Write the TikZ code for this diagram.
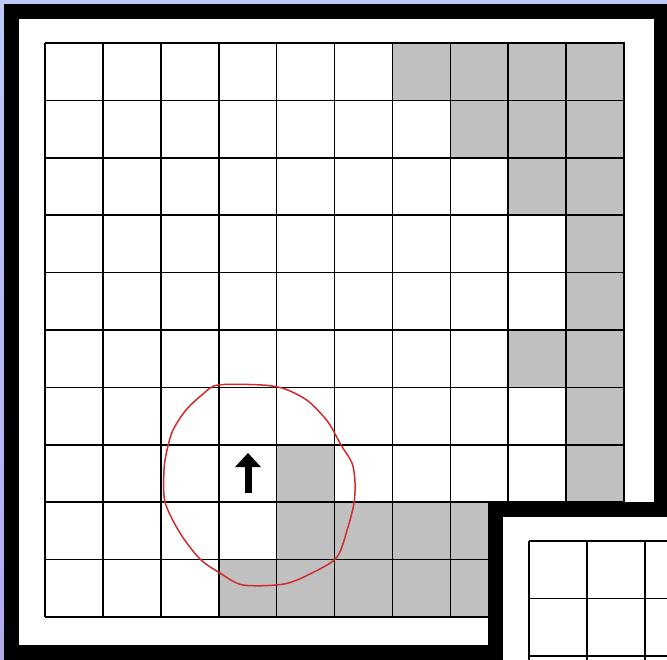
\documentclass[tikz,border=0pt]{standalone}
\usepackage{xcolor}
\usetikzlibrary{arrows.meta}
\definecolor{slide}{HTML}{BCCAF5}
\definecolor{slidelow}{HTML}{B3AAEF}
\definecolor{wall}{HTML}{C0C0C0}
\definecolor{mark}{HTML}{D22B2B}
\tikzset{
  x=1pt, y=-1pt,
  frame/.style={fill=black},
  sheet/.style={fill=white},
  wallcell/.style={fill=wall, draw=black, line width=1.6pt},
  gridline/.style={draw=black, line width=1.6pt},
  sketch/.style={draw=mark, line width=1.5pt},
  heading/.style={draw=black, line width=7pt, -{Triangle[length=14pt,width=25pt]}},
  panel/.pic={
    \fill[frame] (0,0) rectangle (670,670);
    \fill[sheet] (15,15) rectangle (650,641);
    \foreach \i in {0,...,10} {
      \draw[gridline] ({41+57.9*\i},39) -- ({41+57.9*\i},613);
      \draw[gridline] (41,{39+57.4*\i}) -- (620,{39+57.4*\i});
    }
  }
}

\begin{document}
\begin{tikzpicture}
  \useasboundingbox (0,0) rectangle (667,660);
  \clip (0,0) rectangle (667,660);
  \shade[top color=slide, bottom color=slidelow] (0,0) rectangle (667,660);

  % first board
  \pic at (4,4) {panel};
  \foreach \c/\r in {6/0,7/0,8/0,9/0,7/1,8/1,9/1,8/2,9/2,9/3,9/4,8/5,9/5,9/6,9/7,
                     4/7,4/8,5/8,6/8,7/8,3/9,4/9,5/9,6/9,7/9} {
    \fill[wallcell] ({45+57.9*\c},{43+57.4*\r}) rectangle +(57.9,57.4);
  }
  \draw[sketch] plot[smooth cycle] coordinates {
    (218,385) (262,385) (285,389) (308,401) (328,422) (341,445) (352,463)
    (355,482) (354,503) (348,527) (337,557) (312,573) (284,584) (243,585)
    (220,573) (200,559) (180,533) (165,502) (164,470) (167,450) (173,430)
    (186,410) (203,394)};
  \draw[heading] (248,493) -- (248,453);

  % next board, partly hidden
  \pic at (488,502) {panel};
\end{tikzpicture}
\end{document}
